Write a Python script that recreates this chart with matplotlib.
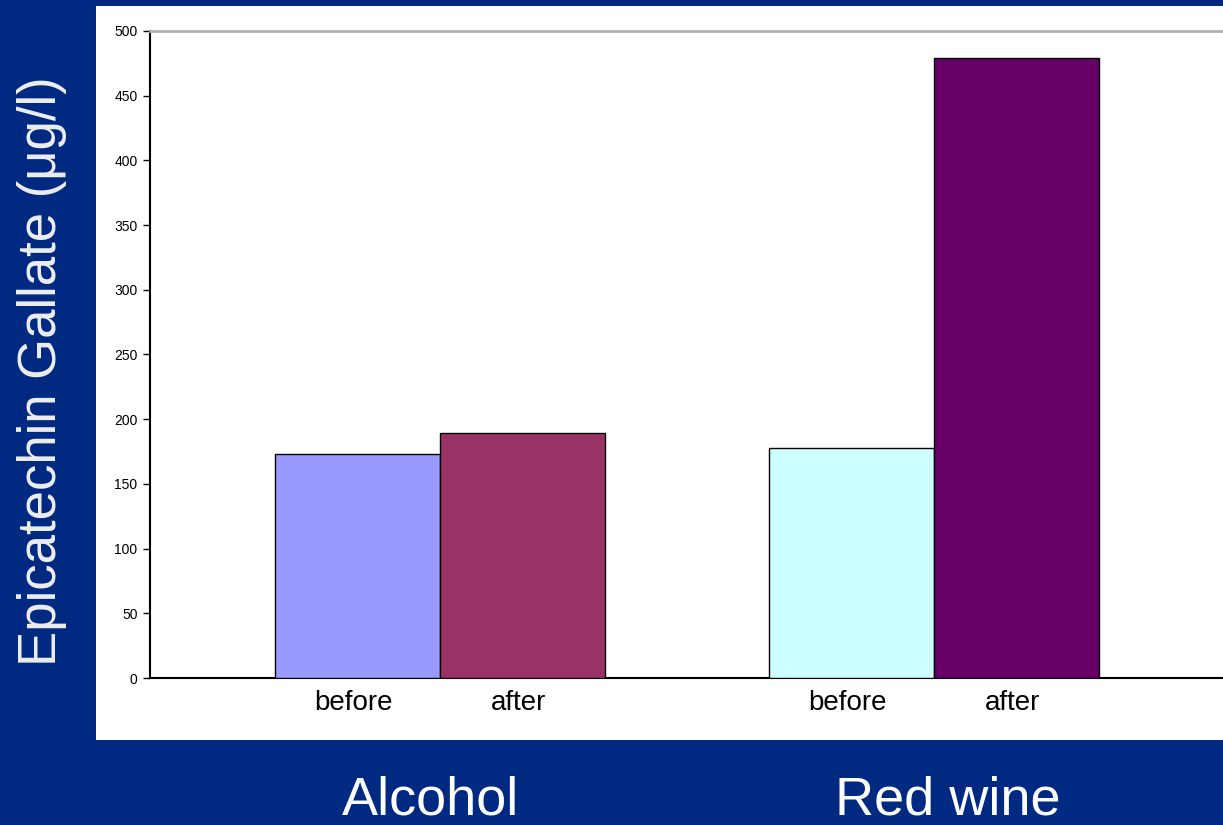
import matplotlib.pyplot as plt
from matplotlib.patches import Rectangle
from matplotlib.transforms import blended_transform_factory, offset_copy

plt.rcParams['font.family'] = ['Liberation Sans', 'DejaVu Sans']

groups = ['Alcohol', 'Red wine']
phases = ['before', 'after']
values = {
    'Alcohol': [173, 189],
    'Red wine': [178, 479],
}
colors = {
    'Alcohol': ['#9999FF', '#993366'],
    'Red wine': ['#CCFFFF', '#660066'],
}

bg = '#002A82'
fig = plt.figure(figsize=(12.23, 8.25), dpi=100, facecolor=bg)

# white chart area sitting on the blue slide
fig.patches.append(Rectangle((96 / 1223, 85 / 825), 1.0, 819 / 825 - 85 / 825,
                             transform=fig.transFigure, facecolor='white',
                             edgecolor='none', zorder=-1))

ax = fig.add_axes([150 / 1223, 147 / 825, 1150 / 1223, 647 / 825])
ax.set_zorder(1)
ax.set_facecolor('white')

# group captions sit a little off the group centres
group_shift = [-7, 10]

width = 0.334
below = blended_transform_factory(ax.transData, fig.transFigure)
for i, g in enumerate(groups):
    for j, p in enumerate(phases):
        x = i + (j - 0.5) * width
        ax.bar(x, values[g][j], width=width, color=colors[g][j],
               edgecolor='black', linewidth=1.0, zorder=3)
        ax.text(x - 0.008, -9, p, ha='center', va='top', fontsize=20, color='black')
    ax.text(i, 0.03, g, transform=offset_copy(below, fig=fig, x=group_shift[i], units='points'),
            ha='center', va='center', fontsize=39, color='white')

ax.set_xlim(-0.587, 1.741)
ax.set_ylim(0, 500)
ax.set_yticks(range(0, 501, 50))
ax.set_xticks([])
ax.tick_params(axis='y', direction='out', length=5, width=1, labelsize=10, pad=4)

ax.spines['right'].set_visible(False)
ax.spines['top'].set_color('#B0B0B0')
ax.spines['top'].set_linewidth(2)
ax.spines['left'].set_linewidth(1.5)
ax.spines['bottom'].set_linewidth(1.5)

fig.text(42 / 1223, 0.55, 'Epicatechin Gallate (\u03bcg/l)', rotation=90,
         ha='center', va='center', fontsize=38, color='#EEEEEE')

fig.savefig('out.png', dpi=100, facecolor=bg)
